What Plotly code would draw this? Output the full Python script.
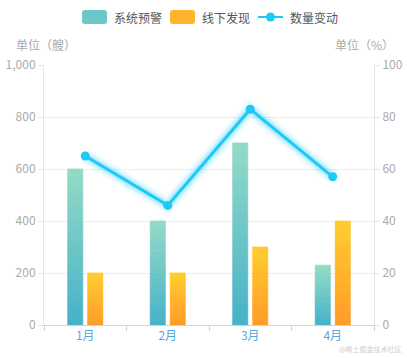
import plotly.graph_objects as go

months = ["1月", "2月", "3月", "4月"]
system_warn = [600, 400, 700, 230]
offline_found = [200, 200, 300, 400]
change_pct = [65, 46, 83, 57]
legend_names = ["系统预警", "线下发现", "数量变动"]

N_SEG = 24
W, H = 407, 358
L, R, T, B = 44, 33, 65, 33
PW, PH = W - L - R, H - T - B

def px_x(p):
    return (p - L) / PW

def px_y(p):
    return (H - B - p) / PH

def lerp(c1, c2, t):
    return "rgb(%d,%d,%d)" % tuple(round(a + (b - a) * t) for a, b in zip(c1, c2))

teal_top, teal_bot = (146, 218, 198), (72, 178, 200)
orange_top, orange_bot = (255, 204, 46), (255, 156, 40)
line_color = "#1fc8f5"

fig = go.Figure()

def add_gradient_bars(values, top, bot, name, group):
    for i in range(N_SEG):
        t = i / (N_SEG - 1)
        c = lerp(bot, top, t)
        fig.add_trace(go.Bar(
            x=months,
            y=[v / N_SEG for v in values],
            base=[v * i / N_SEG for v in values],
            offsetgroup=group,
            marker=dict(color=c, line=dict(width=0.8, color=c)),
            name=name, showlegend=False, hoverinfo="skip",
        ))

add_gradient_bars(system_warn, teal_top, teal_bot, legend_names[0], "a")
add_gradient_bars(offline_found, orange_top, orange_bot, legend_names[1], "b")

# glow
for w, op in [(16, 0.06), (11, 0.12), (7, 0.22)]:
    fig.add_trace(go.Scatter(
        x=months, y=change_pct, yaxis="y2", mode="lines",
        line=dict(color="rgba(40,210,255,%s)" % op, width=w),
        showlegend=False, hoverinfo="skip"))
fig.add_trace(go.Scatter(
    x=months, y=change_pct, yaxis="y2", mode="lines+markers",
    name=legend_names[2], showlegend=False,
    line=dict(color=line_color, width=3),
    marker=dict(color=line_color, size=9),
))

def rrect(x0, y0, x1, y1, r):
    X = lambda p: px_x(p)
    Y = lambda p: px_y(p)
    return (f"M {X(x0+r)},{Y(y0)} L {X(x1-r)},{Y(y0)} Q {X(x1)},{Y(y0)} {X(x1)},{Y(y0+r)} "
            f"L {X(x1)},{Y(y1-r)} Q {X(x1)},{Y(y1)} {X(x1-r)},{Y(y1)} "
            f"L {X(x0+r)},{Y(y1)} Q {X(x0)},{Y(y1)} {X(x0)},{Y(y1-r)} "
            f"L {X(x0)},{Y(y0+r)} Q {X(x0)},{Y(y0)} {X(x0+r)},{Y(y0)} Z")

shapes = []
for (x0, top, bot) in [(82, teal_top, teal_bot), (170, orange_top, orange_bot)]:
    shapes.append(dict(type="path", xref="paper", yref="paper",
                       path=rrect(x0, 10, x0 + 25, 24, 3),
                       fillcolor=lerp(bot, top, 0.5), line=dict(width=0), layer="above"))
shapes.append(dict(type="line", xref="paper", yref="paper",
                   x0=px_x(258), x1=px_x(283), y0=px_y(17), y1=px_y(17),
                   line=dict(color=line_color, width=2)))
shapes.append(dict(type="circle", xref="paper", yref="paper",
                   x0=px_x(266), x1=px_x(275), y0=px_y(12.5), y1=px_y(21.5),
                   fillcolor=line_color, line=dict(width=0)))

annotations = [
    dict(text=legend_names[0], x=px_x(112), y=px_y(17)),
    dict(text=legend_names[1], x=px_x(200), y=px_y(17)),
    dict(text=legend_names[2], x=px_x(288), y=px_y(17)),
]
for a in annotations:
    a.update(xref="paper", yref="paper", xanchor="left", yanchor="middle",
             showarrow=False, font=dict(size=12, color="#555"))
annotations += [
    dict(text="单位（艘）", xref="paper", yref="paper", x=px_x(14), y=px_y(44),
         xanchor="left", yanchor="middle", showarrow=False,
         font=dict(size=12, color="#aaa")),
    dict(text="单位（%）", xref="paper", yref="paper", x=px_x(396), y=px_y(44),
         xanchor="right", yanchor="middle", showarrow=False,
         font=dict(size=12, color="#aaa")),
    dict(text="@稀土掘金技术社区", xref="paper", yref="paper", x=px_x(404), y=px_y(349),
         xanchor="right", yanchor="middle", showarrow=False,
         font=dict(size=7, color="#cfcfcf")),
]

fig.update_layout(
    width=W, height=H,
    margin=dict(l=L, r=R, t=T, b=B, autoexpand=False),
    paper_bgcolor="white", plot_bgcolor="white",
    barmode="group", bargap=0.515, bargroupgap=0.25,
    font=dict(family="Noto Sans CJK SC, sans-serif", color="#666", size=12),
    showlegend=False,
    xaxis=dict(
        automargin=False,
        showgrid=False, showline=True, linecolor="#c8d6e0",
        ticks="outside", tickson="boundaries", ticklen=5, tickcolor="#c8d6e0",
        tickfont=dict(color="#5aa6dc", size=12),
    ),
    yaxis=dict(
        automargin=False,
        range=[0, 1000], dtick=200, tickformat=",",
        showgrid=True, gridcolor="#e9eff3", showline=True, linecolor="#e1e8ec",
        ticks="outside", ticklen=5, tickcolor="#e1e8ec",
        tickfont=dict(color="#aaa", size=12), zeroline=False,
    ),
    yaxis2=dict(
        automargin=False,
        range=[0, 100], dtick=20, overlaying="y", side="right",
        showgrid=False, showline=True, linecolor="#e1e8ec",
        ticks="outside", ticklen=5, tickcolor="#e1e8ec",
        tickfont=dict(color="#aaa", size=12), zeroline=False,
    ),
    shapes=shapes,
    annotations=annotations,
)

fig.write_html("out.html", config={"displayModeBar": False},
               post_script="document.body.style.margin='0';document.body.style.padding='0';")
